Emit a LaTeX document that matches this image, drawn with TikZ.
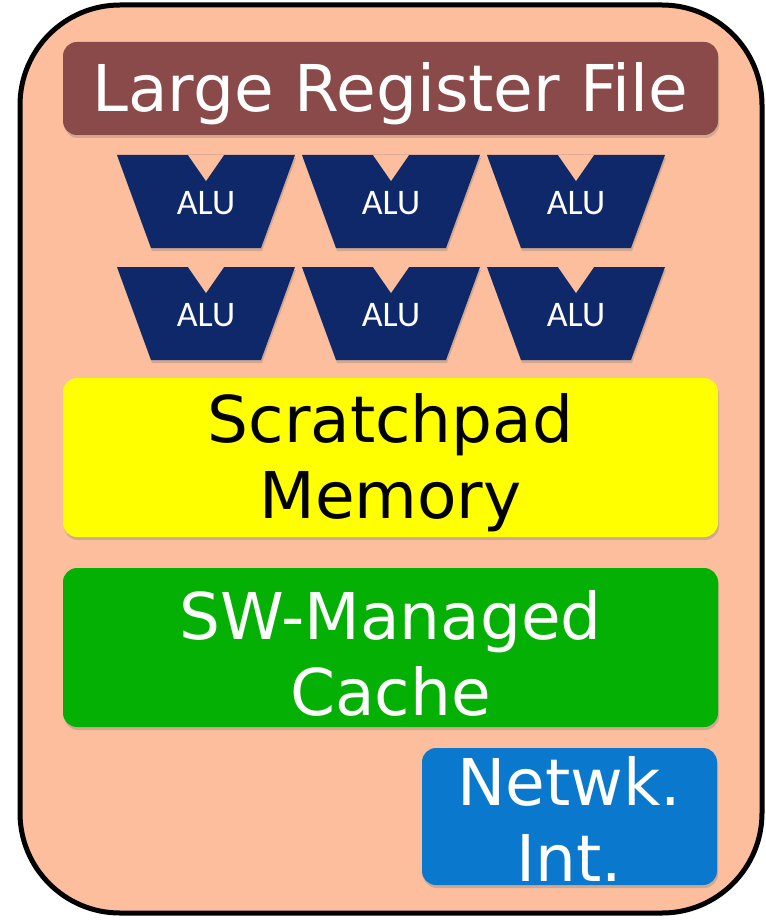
\documentclass[tikz,border=0pt]{standalone}
\usepackage{fontspec}
\setmainfont{DejaVu Sans}
\newfontfamily\alufont{Carlito}
\usetikzlibrary{shadows,positioning,calc}

\definecolor{peach}{RGB}{252,190,156}
\definecolor{regred}{RGB}{139,74,74}
\definecolor{alublue}{RGB}{14,40,106}
\definecolor{padyellow}{RGB}{255,255,0}
\definecolor{cachegreen}{RGB}{4,176,4}
\definecolor{netblue}{RGB}{10,120,204}

\begin{document}
\begin{tikzpicture}
[x=1pt,y=-1pt,
every node/.style={align=center,font=\fontsize{64.5}{76}\selectfont},
block/.style={rounded corners=14pt,drop shadow={shadow xshift=1pt,shadow yshift=-3pt,opacity=.35}},
alubox/.style={fill=alublue,drop shadow={shadow xshift=1pt,shadow yshift=-3pt,opacity=.35}},
alulabel/.style={text=white,font=\alufont\fontsize{36}{40}\selectfont}]
\useasboundingbox (0,0) rectangle (765,920);
% chip outline
\draw[line width=5pt,fill=peach,rounded corners=100pt] (20,5) rectangle (762,913);
% register file
\path[block,fill=regred] (63,42) rectangle (718,135);
\node[text=white] (regfile) at (390.5,94) {Large Register File};
% two rows of ALUs
\foreach \x [count=\c] in {206,391,576}
  \foreach \y [count=\r] in {155,267}
  {
    \path[alubox] (\x-89,\y) -- (\x+89,\y) -- (\x+55,\y+93) -- (\x-55,\y+93) -- cycle;
    \fill[peach] (\x-18,\y) -- (\x+18,\y) -- (\x,\y+26) -- cycle;
    \node[alulabel] (alu-\r-\c) at (\x,\y+48) {ALU};
  }
% memories
\path[block,fill=padyellow] (63,378) rectangle (718,537);
\node[text=black] (scratchpad) at (390.5,463) {Scratchpad\\Memory};
\path[block,fill=cachegreen] (63,568) rectangle (718,727);
\node[text=white] (cache) at (390.5,653) {SW-Managed\\Cache};
% network interface
\path[block,fill=netblue] (422,748) rectangle (717,885);
\node[text=white] (netif) at (569.5,819) {Netwk.\\Int.};
\end{tikzpicture}
\end{document}
